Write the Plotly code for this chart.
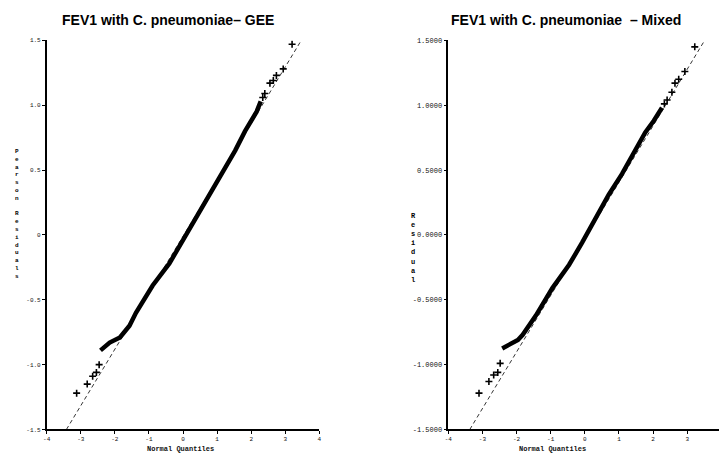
import plotly.graph_objects as go

W, H = 721, 461

# ---------------- data ----------------
# GEE panel: dense band of ordered residuals
gee_band_q = [-2.42, -2.15, -1.85, -1.70, -1.57, -1.38, -1.08, -0.89, -0.40, -0.02, 0.37, 0.76, 1.15, 1.53, 1.82, 2.16, 2.28]
gee_band_r = [-0.89, -0.83, -0.79, -0.74, -0.70, -0.60, -0.47, -0.39, -0.22, -0.05, 0.12, 0.31, 0.47, 0.65, 0.80, 0.95, 1.03]
gee_pts_q = [-3.12, -2.81, -2.65, -2.54, -2.46, 2.34, 2.40, 2.55, 2.65, 2.74, 2.94, 3.20]
gee_pts_r = [-1.22, -1.15, -1.09, -1.06, -1.00, 1.06, 1.09, 1.17, 1.19, 1.23, 1.28, 1.47]
gee_ref_q = [-3.42, 3.47]
gee_ref_r = [-1.5, 1.5]

# Mixed panel
mix_band_q = [-2.42, -2.30, -1.96, -1.82, -1.43, -0.95, -0.46, -0.08, 0.31, 0.70, 1.09, 1.48, 1.77, 2.02, 2.26]
mix_band_r = [-0.875, -0.86, -0.81, -0.77, -0.62, -0.41, -0.23, -0.06, 0.12, 0.31, 0.47, 0.65, 0.79, 0.88, 0.98]
mix_pts_q = [-3.10, -2.81, -2.67, -2.55, -2.48, 2.33, 2.41, 2.55, 2.64, 2.75, 2.93, 3.22]
mix_pts_r = [-1.22, -1.13, -1.08, -1.06, -0.99, 1.01, 1.04, 1.10, 1.17, 1.20, 1.26, 1.45]
mix_ref_q = [-3.37, 3.51]
mix_ref_r = [-1.5, 1.5]

x_ticks = [-4, -3, -2, -1, 0, 1, 2, 3, 4]
y_ticks = [1.5, 1.0, 0.5, 0, -0.5, -1.0, -1.5]
gee_y_labels = ["1.5", "1.0", "0.5", "0", "-0.5", "-1.0", "-1.5"]
mix_y_labels = ["1.5000", "1.0000", "0.5000", "0.0000", "-0.5000", "-1.0000", "-1.5000"]

titles = ["FEV1 with C. pneumoniae\u2013 GEE", "FEV1 with C. pneumoniae  \u2013 Mixed"]
ytitles = ["Pearson Residuals", "Residual"]
xtitle = "Normal Quantiles"

# ---------------- figure ----------------
fig = go.Figure()

def add_panel(bq, br, pq, pr, rq, rr, xa, ya):
    fig.add_trace(go.Scatter(x=rq, y=rr, mode="lines", xaxis=xa, yaxis=ya,
                             line=dict(color="#333", width=1, dash="4px,3px"),
                             showlegend=False, hoverinfo="skip"))
    fig.add_trace(go.Scatter(x=bq, y=br, mode="lines", xaxis=xa, yaxis=ya,
                             line=dict(color="black", width=4.5),
                             showlegend=False))
    fig.add_trace(go.Scatter(x=pq, y=pr, mode="markers", xaxis=xa, yaxis=ya,
                             marker=dict(symbol="cross-thin-open", size=5, color="black",
                                         line=dict(color="black", width=1.6)),
                             showlegend=False))

add_panel(gee_band_q, gee_band_r, gee_pts_q, gee_pts_r, gee_ref_q, gee_ref_r, "x", "y")
add_panel(mix_band_q, mix_band_r, mix_pts_q, mix_pts_r, mix_ref_q, mix_ref_r, "x2", "y2")

y_dom = [(H - 433) / H, (H - 37) / H]

def axis_common(size):
    return dict(showline=True, linecolor="black", linewidth=1.5, mirror=False,
                ticks="outside", ticklen=3, tickcolor="black", tickwidth=1,
                showgrid=False, zeroline=False,
                tickfont=dict(family="Liberation Mono", size=size, color="#111"))

fig.update_layout(
    width=W, height=H,
    margin=dict(l=0, r=0, t=0, b=0),
    paper_bgcolor="white", plot_bgcolor="white",
    xaxis=dict(domain=[43 / W, 318 / W], range=[-4, 4], anchor="y",
               tickvals=x_ticks, ticktext=[str(v) for v in x_ticks], **axis_common(6)),
    yaxis=dict(domain=y_dom, range=[-1.5, 1.5], anchor="x",
               tickvals=y_ticks, ticktext=gee_y_labels, **axis_common(6)),
    xaxis2=dict(domain=[448 / W, 1.0], range=[-4, 3.93], anchor="y2",
                tickvals=x_ticks[:-1], ticktext=[str(v) for v in x_ticks[:-1]], **axis_common(6)),
    yaxis2=dict(domain=y_dom, range=[-1.5, 1.5], anchor="x2",
                tickvals=y_ticks, ticktext=mix_y_labels, **axis_common(7)),
)

ann = []
tfont = dict(family="Liberation Sans", size=14, color="black")
ann.append(dict(text="<b>" + titles[0] + "</b>", x=165 / W, y=1 - 16 / H, xref="paper", yref="paper",
                xanchor="center", yanchor="middle", showarrow=False, font=tfont))
ann.append(dict(text="<b>" + titles[1] + "</b>", x=567 / W, y=1 - 16 / H, xref="paper", yref="paper",
                xanchor="center", yanchor="middle", showarrow=False, font=tfont))
xfont = dict(family="Liberation Mono", size=7, color="#111")
ann.append(dict(text="<b>" + xtitle + "</b>", x=178 / W, y=1 - 453 / H, xref="paper", yref="paper",
                xanchor="center", yanchor="middle", showarrow=False, font=xfont))
ann.append(dict(text="<b>" + xtitle + "</b>", x=553 / W, y=1 - 453 / H, xref="paper", yref="paper",
                xanchor="center", yanchor="middle", showarrow=False, font=xfont))

def stacked(s):
    return "<br>".join(ch if ch != " " else " " for ch in s)

ann.append(dict(text="<b>" + stacked(ytitles[0]) + "</b>", x=13 / W, y=1 - 214 / H, xref="paper", yref="paper",
                xanchor="center", yanchor="middle", showarrow=False,
                font=dict(family="Liberation Mono", size=6, color="#000")))
ann.append(dict(text="<b>" + stacked(ytitles[1]) + "</b>", x=413 / W, y=1 - 248 / H, xref="paper", yref="paper",
                xanchor="center", yanchor="middle", showarrow=False,
                font=dict(family="Liberation Mono", size=7, color="#000")))
fig.update_layout(annotations=ann)

fig.write_html("out.html")
